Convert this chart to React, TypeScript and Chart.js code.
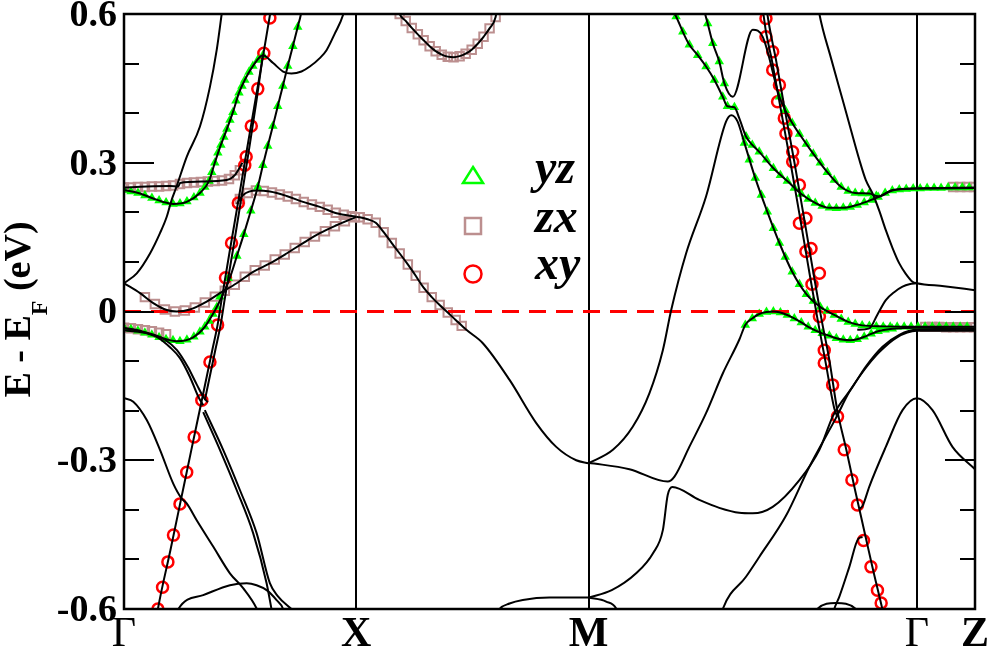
import React, { useEffect, useRef } from 'react';
import { Chart, registerables } from 'chart.js';

Chart.register(...registerables);

type P = [number, number];

// ---- axes ----
const kTicks = [0, 1, 2, 3.414, 3.664];
const kLabels = ['Γ', 'X', 'M', 'Γ', 'Z'];
const energyTicks = [-0.6, -0.5, -0.4, -0.3, -0.2, -0.1, 0, 0.1, 0.2, 0.3, 0.4, 0.5, 0.6];
const energyLabelValues = [-0.6, -0.3, 0, 0.3, 0.6];
const energyLabels = ['-0.6', '-0.3', '0', '0.3', '0.6'];
const fermiLevel: P[] = [[0, 0], [3.664, 0]];

// ---- bands: Γ - X ----
const bandGX_a: P[] = [[0,0.057],[0.055,0.077],[0.112,0.117],[0.155,0.158],[0.184,0.191],[0.205,0.225],[0.224,0.249],[0.270,0.312],[0.327,0.373],[0.370,0.453],[0.399,0.527],[0.420,0.598],[0.424,0.612]];
const bandGX_b: P[] = [[0,0.250],[0.098,0.252],[0.198,0.253],[0.234,0.252],[0.241,0.259],[0.341,0.262],[0.442,0.265],[0.477,0.275],[0.510,0.300]];
const bandGX_c: P[] = [[0,0.245],[0.069,0.238],[0.126,0.228],[0.169,0.221],[0.212,0.217],[0.270,0.221],[0.327,0.239],[0.366,0.263],[0.391,0.300],[0.417,0.336],[0.443,0.368],[0.469,0.402],[0.495,0.441],[0.520,0.467],[0.555,0.495],[0.598,0.517],[0.642,0.501],[0.685,0.484],[0.721,0.480],[0.764,0.484],[0.800,0.494],[0.843,0.511],[0.872,0.527],[0.908,0.561],[0.943,0.598],[0.950,0.612]];
const bandGX_d: P[] = [[0.142,-0.612],[0.146,-0.600],[0.200,-0.481],[0.245,-0.380],[0.290,-0.279],[0.335,-0.179],[0.380,-0.078],[0.403,-0.027],[0.420,0.023],[0.456,0.124],[0.493,0.225],[0.529,0.326],[0.566,0.427],[0.603,0.527],[0.629,0.600],[0.633,0.612]];
const bandGX_e: P[] = [[0.348,-0.179],[0.393,-0.078],[0.416,-0.027],[0.433,0.023],[0.469,0.124],[0.504,0.225],[0.538,0.326],[0.571,0.427],[0.598,0.517]];
const bandGX_f: P[] = [[0,-0.033],[0.069,-0.040],[0.141,-0.050],[0.227,-0.060],[0.298,-0.052],[0.348,-0.031],[0.383,-0.005],[0.404,0.013],[0.456,0.068],[0.486,0.112],[0.516,0.156],[0.546,0.203],[0.576,0.251],[0.598,0.295],[0.619,0.334],[0.641,0.374],[0.662,0.414],[0.684,0.455],[0.705,0.495],[0.727,0.535],[0.748,0.574],[0.761,0.598],[0.766,0.612]];
const bandGX_g: P[] = [[0,0.057],[0.069,0.037],[0.126,0.017],[0.184,0.003],[0.227,0.000],[0.284,0.004],[0.356,0.020],[0.413,0.037],[0.485,0.057],[0.556,0.080],[0.628,0.097],[0.700,0.117],[0.771,0.138],[0.843,0.158],[0.915,0.174],[1.0,0.191]];
const bandGX_h: P[] = [[0.486,0.217],[0.513,0.235],[0.571,0.244],[0.628,0.242],[0.700,0.233],[0.771,0.221],[0.843,0.211],[0.915,0.198],[1.0,0.191]];
const bandGX_i: P[] = [[0,-0.033],[0.069,-0.039],[0.141,-0.051],[0.198,-0.072],[0.241,-0.094],[0.284,-0.132],[0.320,-0.172],[0.341,-0.189]];
const bandGX_j: P[] = [[0,-0.038],[0.112,-0.045],[0.176,-0.057],[0.228,-0.078],[0.275,-0.112],[0.314,-0.148],[0.344,-0.174],[0.361,-0.183]];
const bandGX_k: P[] = [[0.341,-0.203],[0.413,-0.279],[0.485,-0.360],[0.556,-0.447],[0.614,-0.548],[0.635,-0.600],[0.641,-0.615]];
const bandGX_l: P[] = [[0.348,-0.199],[0.427,-0.279],[0.499,-0.360],[0.571,-0.447],[0.628,-0.548],[0.662,-0.574],[0.721,-0.600],[0.735,-0.606]];
const bandGX_m: P[] = [[0,-0.175],[0.040,-0.182],[0.098,-0.219],[0.155,-0.279],[0.212,-0.347],[0.248,-0.377],[0.270,-0.387],[0.313,-0.421],[0.384,-0.474],[0.456,-0.528],[0.513,-0.558],[0.571,-0.599],[0.580,-0.610]];
const bandGX_n: P[] = [[0.225,-0.615],[0.234,-0.600],[0.341,-0.572],[0.456,-0.552],[0.528,-0.548],[0.571,-0.552],[0.614,-0.562],[0.657,-0.582],[0.685,-0.600],[0.690,-0.610]];

// ---- bands: X - M ----
const bandXM_a: P[] = [[1.0,0.191],[1.015,0.190],[1.049,0.186],[1.084,0.179],[1.118,0.160],[1.153,0.138],[1.187,0.117],[1.222,0.095],[1.256,0.072],[1.290,0.048],[1.325,0.029],[1.359,0.013],[1.394,-0.002],[1.428,-0.017],[1.474,-0.037],[1.545,-0.064],[1.660,-0.138],[1.775,-0.225],[1.861,-0.273],[1.947,-0.300],[2.0,-0.306]];
const bandXM_b: P[] = [[1.180,0.612],[1.187,0.600],[1.213,0.586],[1.239,0.572],[1.265,0.559],[1.290,0.547],[1.316,0.535],[1.342,0.525],[1.368,0.518],[1.394,0.514],[1.419,0.513],[1.445,0.515],[1.471,0.520],[1.497,0.528],[1.523,0.540],[1.548,0.554],[1.574,0.571],[1.600,0.594],[1.606,0.612]];
const bandXM_c: P[] = [[1.600,-0.615],[1.617,-0.600],[1.660,-0.589],[1.717,-0.582],[1.832,-0.577],[2.0,-0.577]];

// ---- bands: M - Γ - Z ----
const bandMG_a: P[] = [[2.0,-0.306],[2.105,-0.279],[2.191,-0.232],[2.262,-0.165],[2.320,-0.078],[2.356,0.003],[2.420,0.117],[2.506,0.232],[2.592,0.383],[2.615,0.396],[2.641,0.384],[2.671,0.340],[2.718,0.269],[2.770,0.201],[2.822,0.138],[2.877,0.080],[2.938,0.035],[2.998,0.009],[3.058,-0.007],[3.118,-0.021],[3.178,-0.028],[3.269,-0.030],[3.414,-0.031],[3.664,-0.031]];
const bandMG_b: P[] = [[2.355,0.612],[2.377,0.595],[2.406,0.564],[2.434,0.538],[2.470,0.517],[2.506,0.494],[2.542,0.467],[2.578,0.433],[2.598,0.414],[2.628,0.412],[2.649,0.390],[2.678,0.353],[2.705,0.336],[2.735,0.322],[2.796,0.289],[2.856,0.263],[2.916,0.237],[2.976,0.219],[3.037,0.209],[3.097,0.209],[3.157,0.215],[3.217,0.225],[3.252,0.232],[3.308,0.244],[3.414,0.248],[3.664,0.250]];
const bandMG_c: P[] = [[2.495,0.612],[2.513,0.581],[2.535,0.541],[2.563,0.504],[2.585,0.460],[2.621,0.433],[2.707,0.568],[2.750,0.554],[2.822,0.433],[2.847,0.406],[2.877,0.380],[2.908,0.358],[2.968,0.318],[3.028,0.281],[3.088,0.251],[3.148,0.239],[3.209,0.238],[3.239,0.233],[3.252,0.232],[3.309,0.245],[3.414,0.248],[3.664,0.249]];
const bandMG_d: P[] = [[2.0,-0.305],[2.176,-0.318],[2.341,-0.343],[2.370,-0.333],[2.434,-0.273],[2.506,-0.205],[2.578,-0.125],[2.649,-0.057],[2.675,-0.027],[2.705,-0.014],[2.735,-0.005],[2.766,-0.001],[2.796,0.000],[2.826,-0.002],[2.856,-0.007],[2.886,-0.014],[2.916,-0.022],[2.946,-0.031],[2.976,-0.038],[3.006,-0.044],[3.037,-0.049],[3.067,-0.054],[3.097,-0.057],[3.127,-0.058],[3.157,-0.056],[3.187,-0.051],[3.217,-0.045],[3.247,-0.040],[3.277,-0.037],[3.308,-0.035],[3.414,-0.033],[3.664,-0.034]];
const bandMG_e: P[] = [[2.0,-0.577],[2.100,-0.562],[2.205,-0.528],[2.277,-0.488],[2.320,-0.441],[2.341,-0.370],[2.361,-0.354],[2.477,-0.380],[2.563,-0.396],[2.649,-0.406],[2.707,-0.407],[2.793,-0.394],[2.908,-0.340],[2.994,-0.279],[3.051,-0.212],[3.071,-0.195],[3.137,-0.152],[3.194,-0.111],[3.266,-0.071],[3.338,-0.047],[3.414,-0.037],[3.664,-0.037]];
const bandMG_f: P[] = [[2.570,-0.615],[2.578,-0.600],[2.678,-0.535],[2.735,-0.495],[2.850,-0.412],[2.951,-0.313],[3.065,-0.215],[3.123,-0.162],[3.187,-0.118],[3.252,-0.082],[3.325,-0.053],[3.414,-0.039],[3.664,-0.039]];
const bandMG_g: P[] = [[2.751,0.612],[2.753,0.600],[2.791,0.503],[2.830,0.402],[2.869,0.302],[2.908,0.197],[2.946,0.092],[2.985,-0.013],[3.019,-0.098],[3.058,-0.195],[3.071,-0.212]];
const bandMG_h: P[] = [[2.767,0.612],[2.770,0.600],[2.809,0.503],[2.847,0.402],[2.886,0.302],[2.925,0.197],[2.963,0.092],[3.002,-0.013],[3.037,-0.098],[3.071,-0.199],[3.110,-0.279],[3.148,-0.361],[3.187,-0.442],[3.226,-0.523],[3.265,-0.600],[3.272,-0.615]];
const bandMG_i: P[] = [[2.990,0.612],[2.994,0.600],[3.044,0.511],[3.094,0.427],[3.130,0.366],[3.166,0.306],[3.194,0.265],[3.223,0.238],[3.252,0.203],[3.280,0.164],[3.309,0.128],[3.338,0.097],[3.366,0.076],[3.395,0.060],[3.414,0.057],[3.531,0.051],[3.664,0.043]];
const bandMG_j: P[] = [[3.157,-0.037],[3.209,-0.034],[3.243,-0.007],[3.280,0.023],[3.316,0.039],[3.352,0.050],[3.381,0.055],[3.414,0.057]];
const bandMG_k: P[] = [[3.166,-0.398],[3.180,-0.392],[3.209,-0.353],[3.280,-0.273],[3.352,-0.199],[3.414,-0.175],[3.481,-0.199],[3.567,-0.273],[3.664,-0.318]];
const bandMG_l: P[] = [[3.050,-0.615],[3.058,-0.600],[3.080,-0.575],[3.123,-0.515],[3.162,-0.458],[3.180,-0.455]];
const bandMG_m: P[] = [[2.980,-0.610],[2.985,-0.600],[3.065,-0.588],[3.151,-0.600],[3.156,-0.610]];
const bandMG_n: P[] = [[2.0,-0.577],[2.076,-0.585],[2.119,-0.599],[2.128,-0.612]];

const bands: P[][] = [
  bandGX_a, bandGX_b, bandGX_c, bandGX_d, bandGX_e, bandGX_f, bandGX_g, bandGX_h,
  bandGX_i, bandGX_j, bandGX_k, bandGX_l, bandGX_m, bandGX_n,
  bandXM_a, bandXM_b, bandXM_c,
  bandMG_a, bandMG_b, bandMG_c, bandMG_d, bandMG_e, bandMG_f, bandMG_g, bandMG_h,
  bandMG_i, bandMG_j, bandMG_k, bandMG_l, bandMG_m, bandMG_n,
];

// ---- orbital character markers ----
const yzPoints: P[] = [
  [0,0.245],[0.030,0.242],[0.060,0.239],[0.090,0.234],[0.120,0.229],[0.151,0.224],[0.181,0.220],[0.211,0.217],[0.241,0.218],[0.271,0.222],[0.301,0.230],[0.327,0.239],[0.348,0.251],[0.366,0.263],[0.378,0.281],[0.391,0.300],[0.404,0.320],[0.417,0.336],[0.430,0.352],[0.443,0.368],[0.456,0.386],[0.469,0.402],[0.482,0.425],[0.495,0.441],[0.508,0.455],[0.520,0.467],[0.538,0.483],[0.555,0.495],[0.576,0.507],[0.598,0.517],
  [0,-0.033],[0.030,-0.036],[0.060,-0.039],[0.090,-0.043],[0.120,-0.047],[0.151,-0.052],[0.181,-0.056],[0.211,-0.058],[0.241,-0.060],[0.271,-0.057],[0.301,-0.051],[0.327,-0.041],[0.348,-0.031],[0.366,-0.019],[0.383,-0.005],[0.400,0.009],[0.413,0.030],[0.449,0.067],
  [0.486,0.112],[0.516,0.156],[0.546,0.203],[0.576,0.251],[0.598,0.295],[0.619,0.334],[0.641,0.374],[0.662,0.414],[0.684,0.455],[0.705,0.495],[0.727,0.535],[0.748,0.574],
  [2.377,0.595],[2.406,0.564],[2.434,0.538],[2.470,0.517],[2.506,0.494],[2.542,0.467],[2.578,0.433],[2.598,0.414],[2.628,0.412],
  [2.513,0.581],[2.535,0.541],[2.563,0.504],[2.585,0.460],
  [2.678,0.353],[2.705,0.336],[2.735,0.322],[2.766,0.306],[2.796,0.289],[2.826,0.275],[2.856,0.263],[2.886,0.249],[2.916,0.237],[2.946,0.227],[2.976,0.219],[3.006,0.213],[3.037,0.209],[3.067,0.208],[3.097,0.209],[3.127,0.211],[3.157,0.215],[3.187,0.220],[3.217,0.225],[3.247,0.231],[3.277,0.239],[3.308,0.244],[3.338,0.246],[3.368,0.247],[3.398,0.248],[3.428,0.248],[3.458,0.249],[3.488,0.249],[3.518,0.249],[3.548,0.250],[3.578,0.250],[3.609,0.250],[3.639,0.250],
  [2.822,0.433],[2.847,0.406],[2.877,0.380],[2.908,0.358],[2.938,0.338],[2.968,0.318],[2.998,0.300],[3.028,0.281],[3.058,0.265],[3.088,0.251],[3.118,0.243],[3.148,0.239],[3.178,0.238],[3.209,0.238],[3.239,0.233],
  [2.671,0.340],[2.692,0.306],[2.718,0.269],[2.744,0.235],[2.770,0.201],[2.796,0.168],[2.822,0.138],[2.847,0.110],[2.877,0.080],[2.908,0.055],[2.938,0.035],[2.968,0.021],[2.998,0.009],[3.028,0.001],[3.058,-0.007],[3.088,-0.015],[3.118,-0.021],[3.148,-0.025],[3.178,-0.028],[3.209,-0.029],[3.239,-0.030],[3.269,-0.031],[3.299,-0.031],[3.329,-0.031],[3.359,-0.031],[3.389,-0.031],[3.419,-0.031],[3.449,-0.031],[3.480,-0.031],[3.510,-0.031],[3.540,-0.031],[3.570,-0.031],[3.600,-0.031],[3.630,-0.031],
  [2.675,-0.027],[2.705,-0.014],[2.735,-0.005],[2.766,-0.001],[2.796,0.000],[2.826,-0.002],[2.856,-0.007],[2.886,-0.014],[2.916,-0.022],[2.946,-0.031],[2.976,-0.038],[3.006,-0.044],[3.037,-0.049],[3.067,-0.054],[3.097,-0.057],[3.127,-0.058],[3.157,-0.056],[3.187,-0.051],[3.217,-0.045],[3.247,-0.040],[3.277,-0.037],[3.308,-0.035],
];

const zxPoints: P[] = [
  [0,0.250],[0.030,0.250],[0.060,0.251],[0.090,0.251],[0.120,0.252],[0.151,0.252],[0.181,0.253],[0.211,0.254],[0.241,0.257],[0.271,0.259],[0.301,0.260],[0.331,0.261],[0.361,0.262],[0.391,0.263],[0.422,0.264],[0.452,0.267],[0.477,0.275],[0.499,0.285],
  [0,-0.033],[0.030,-0.034],[0.060,-0.036],[0.090,-0.038],[0.120,-0.040],[0.151,-0.043],[0.181,-0.046],
  [0.090,0.029],[0.133,0.015],[0.176,0.004],[0.219,0.000],[0.262,0.002],[0.305,0.008],[0.348,0.018],[0.391,0.030],[0.434,0.042],[0.477,0.054],[0.520,0.070],[0.563,0.083],[0.606,0.093],[0.649,0.105],[0.692,0.115],[0.735,0.128],[0.778,0.140],[0.822,0.151],[0.865,0.162],[0.908,0.172],[0.951,0.182],[0.994,0.190],
  [0.499,0.227],[0.533,0.239],[0.568,0.244],[0.602,0.243],[0.637,0.240],[0.671,0.236],[0.705,0.232],[0.740,0.227],[0.774,0.221],[0.809,0.216],[0.843,0.211],[0.877,0.205],[0.912,0.199],[0.946,0.195],[0.981,0.192],
  [1.015,0.190],[1.049,0.186],[1.084,0.179],[1.118,0.160],[1.153,0.138],[1.187,0.117],[1.222,0.095],[1.256,0.072],[1.290,0.048],[1.325,0.029],[1.359,0.013],[1.394,-0.002],[1.428,-0.017],[1.454,-0.029],
  [1.187,0.600],[1.213,0.586],[1.239,0.572],[1.265,0.559],[1.290,0.547],[1.316,0.535],[1.342,0.525],[1.368,0.518],[1.394,0.514],[1.419,0.513],[1.445,0.515],[1.471,0.520],[1.497,0.528],[1.523,0.540],[1.548,0.554],[1.574,0.571],[1.600,0.594],
  [3.450,-0.031],[3.480,-0.031],[3.510,-0.031],[3.540,-0.032],[3.570,-0.032],[3.600,-0.032],[3.630,-0.032],[3.660,-0.032],
  [3.570,0.251],[3.600,0.251],[3.630,0.251],[3.660,0.251],
];

const xyPoints: P[] = [
  [0.146,-0.600],[0.166,-0.556],[0.189,-0.505],[0.213,-0.451],[0.241,-0.388],[0.270,-0.324],[0.302,-0.253],[0.335,-0.179],[0.370,-0.102],[0.403,-0.027],[0.437,0.068],[0.463,0.138],[0.492,0.219],[0.520,0.295],[0.526,0.312],[0.548,0.374],[0.576,0.449],[0.602,0.521],[0.628,0.592],
  [2.764,0.591],[2.764,0.554],[2.793,0.524],[2.793,0.487],[2.822,0.457],[2.814,0.423],[2.843,0.390],[2.850,0.359],[2.879,0.322],[2.879,0.302],[2.908,0.255],[2.936,0.188],[2.908,0.178],[2.958,0.127],[2.936,0.121],[2.994,0.077],[2.962,0.055],[2.994,-0.010],[3.015,-0.078],[3.015,-0.104],[3.051,-0.148],[3.072,-0.212],[3.101,-0.279],[3.134,-0.340],[3.158,-0.390],[3.184,-0.462],[3.216,-0.515],[3.244,-0.562],[3.260,-0.588],
];

const legendLabels = ['yz', 'zx', 'xy'];
const yzColor = '#00ff00';
const zxColor = '#bc8f8f';
const xyColor = '#ff0000';

const SERIF = '"Liberation Serif", "Times New Roman", serif';

const toXY = (arr: P[]) => arr.map(([x, y]) => ({ x, y }));

const decorPlugin = {
  id: 'bandDecor',
  afterDatasetsDraw(chart: any) {
    const { ctx, chartArea: a, scales } = chart;
    const xs = scales.x;
    const ys = scales.y;
    ctx.save();
    // frame
    ctx.strokeStyle = '#000';
    ctx.lineWidth = 2.5;
    ctx.strokeRect(a.left, a.top, a.right - a.left, a.bottom - a.top);
    // inward ticks on both sides
    ctx.lineWidth = 2;
    energyTicks.forEach((v) => {
      const py = Math.round(ys.getPixelForValue(v)) + 0.0;
      const major = energyLabelValues.some((m) => Math.abs(m - v) < 1e-6);
      const len = major ? 30 : 15;
      ctx.beginPath();
      ctx.moveTo(a.left, py);
      ctx.lineTo(a.left + len, py);
      ctx.moveTo(a.right, py);
      ctx.lineTo(a.right - len, py);
      ctx.stroke();
    });
    // y tick labels
    ctx.fillStyle = '#000';
    ctx.font = `bold 38px ${SERIF}`;
    ctx.textAlign = 'right';
    ctx.textBaseline = 'middle';
    energyLabelValues.forEach((v, i) => {
      ctx.fillText(energyLabels[i], a.left - 7, ys.getPixelForValue(v) + 2);
    });
    // x labels
    ctx.textAlign = 'center';
    ctx.textBaseline = 'alphabetic';
    kTicks.forEach((k, i) => {
      const isGamma = kLabels[i] === 'Γ';
      ctx.font = `${isGamma ? 'normal' : 'bold'} 42px ${SERIF}`;
      ctx.fillText(kLabels[i], xs.getPixelForValue(k), a.bottom + 37);
    });
    // y title  E - E_F (eV)
    ctx.save();
    ctx.translate(30, (a.top + a.bottom) / 2 - 2);
    ctx.rotate(-Math.PI / 2);
    ctx.textAlign = 'left';
    ctx.textBaseline = 'alphabetic';
    const big = `bold 38px ${SERIF}`;
    const small = `bold 24px ${SERIF}`;
    ctx.font = big;
    const w1 = ctx.measureText('E - E').width;
    const w3 = ctx.measureText(' (eV)').width;
    ctx.font = small;
    const w2 = ctx.measureText('F').width;
    const x0 = -(w1 + w2 + w3) / 2;
    ctx.font = big;
    ctx.fillText('E - E', x0, 0);
    ctx.font = small;
    ctx.fillText('F', x0 + w1, 17);
    ctx.font = big;
    ctx.fillText(' (eV)', x0 + w1 + w2, 0);
    ctx.restore();
    // legend
    const lx = a.left + 349;
    const rows = [a.top + 163, a.top + 211, a.top + 260];
    ctx.lineWidth = 2.5;
    // triangle
    ctx.strokeStyle = yzColor;
    ctx.beginPath();
    ctx.moveTo(lx, rows[0] - 10);
    ctx.lineTo(lx + 10, rows[0] + 6);
    ctx.lineTo(lx - 10, rows[0] + 6);
    ctx.closePath();
    ctx.stroke();
    // square
    ctx.strokeStyle = zxColor;
    ctx.strokeRect(lx - 8, rows[1] - 7, 16, 16);
    // circle
    ctx.strokeStyle = xyColor;
    ctx.beginPath();
    ctx.arc(lx, rows[2], 8.5, 0, Math.PI * 2);
    ctx.stroke();
    ctx.fillStyle = '#000';
    ctx.font = `italic bold 48px ${SERIF}`;
    ctx.textAlign = 'left';
    ctx.textBaseline = 'alphabetic';
    const baselines = [a.top + 169, a.top + 218, a.top + 265];
    legendLabels.forEach((t, i) => ctx.fillText(t, lx + 62, baselines[i]));
    ctx.restore();
  },
};

export default function App() {
  const ref = useRef<HTMLCanvasElement | null>(null);
  useEffect(() => {
    if (!ref.current) return;
    const bandSets = bands.map((b) => ({
      data: toXY(b),
      showLine: true,
      borderColor: '#000',
      borderWidth: 2,
      pointRadius: 0,
      cubicInterpolationMode: 'monotone' as const,
      order: 0,
    }));
    const chart = new Chart(ref.current, {
      type: 'scatter',
      data: {
        datasets: [
          ...bandSets,
          {
            data: toXY(fermiLevel),
            showLine: true,
            borderColor: '#ff0000',
            borderWidth: 3,
            borderDash: [17, 10],
            pointRadius: 0,
            order: 1,
          },
          {
            data: toXY(yzPoints),
            showLine: false,
            pointStyle: 'triangle',
            pointRadius: 4,
            pointBorderWidth: 1.5,
            pointBorderColor: yzColor,
            pointBackgroundColor: yzColor,
            order: 2,
          },
          {
            data: toXY(zxPoints),
            showLine: false,
            pointStyle: 'rect',
            pointRadius: 6,
            pointBorderWidth: 2,
            pointBorderColor: zxColor,
            pointBackgroundColor: 'rgba(0,0,0,0)',
            order: 3,
          },
          {
            data: toXY(xyPoints),
            showLine: false,
            pointStyle: 'circle',
            pointRadius: 5.5,
            pointBorderWidth: 2.5,
            pointBorderColor: xyColor,
            pointBackgroundColor: 'rgba(0,0,0,0)',
            order: 2,
          },
        ] as any,
      },
      options: {
        responsive: false,
        animation: false,
        events: [],
        layout: { padding: { left: 124, top: 14, right: 16, bottom: 41 } },
        plugins: { legend: { display: false }, tooltip: { enabled: false } },
        scales: {
          x: {
            type: 'linear',
            min: 0,
            max: 3.664,
            afterBuildTicks: (s: any) => {
              s.ticks = kTicks.map((v) => ({ value: v }));
            },
            afterFit: (s: any) => {
              s.height = 0;
              s.paddingLeft = 0;
              s.paddingRight = 0;
            },
            ticks: { display: false },
            grid: { color: '#000', lineWidth: 2, drawTicks: false },
            border: { display: false },
          },
          y: {
            type: 'linear',
            min: -0.6,
            max: 0.6,
            afterFit: (s: any) => {
              s.width = 0;
              s.paddingTop = 0;
              s.paddingBottom = 0;
            },
            ticks: { display: false },
            grid: { display: false },
            border: { display: false },
          },
        },
      } as any,
      plugins: [decorPlugin],
    });
    return () => chart.destroy();
  }, []);
  return (
    <div style={{ position: 'fixed', left: 0, top: 0, width: 991, height: 650, background: '#fff' }}>
      <canvas ref={ref} width={991} height={650} style={{ display: 'block' }} />
    </div>
  );
}
